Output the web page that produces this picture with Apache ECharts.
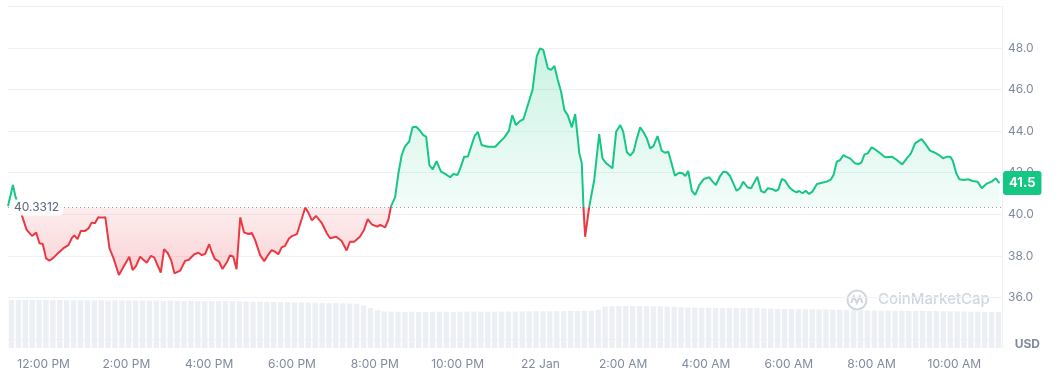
<!DOCTYPE html>
<html><head><meta charset="utf-8">
<script src="https://cdn.jsdelivr.net/npm/echarts@6/dist/echarts.min.js"></script>
<style>html,body{margin:0;padding:0;background:#fff}#c{width:1060px;height:382px}</style>
</head><body><div id="c"></div>
<script>
// ---- data ----
const baseline = 40.3312;
const lastPrice = 41.5;
// time in hours since 00:00 on 21 Jan (24 = midnight 22 Jan)
const times = [11.14,11.26,11.32,11.42,11.51,11.59,11.72,11.75,11.82,11.90,11.98,12.06,12.14,12.22,12.36,12.48,12.60,12.68,12.74,12.82,12.90,13.00,13.08,13.16,13.24,13.32,13.41,13.49,13.59,13.69,13.82,13.93,14.07,14.15,14.23,14.33,14.49,14.59,14.67,14.83,14.91,15.00,15.08,15.16,15.30,15.42,15.50,15.64,15.74,15.82,15.90,16.00,16.06,16.14,16.24,16.32,16.43,16.50,16.58,16.66,16.75,16.84,16.95,17.03,17.11,17.23,17.33,17.42,17.51,17.59,17.67,17.75,17.83,17.93,18.01,18.12,18.24,18.32,18.40,18.48,18.58,18.72,18.84,18.92,19.07,19.20,19.32,19.40,19.50,19.64,19.74,19.83,19.93,20.06,20.13,20.25,20.33,20.39,20.49,20.57,20.65,20.73,20.83,20.91,21.00,21.09,21.17,21.24,21.32,21.40,21.49,21.60,21.70,21.82,21.90,22.00,22.08,22.16,22.25,22.34,22.41,22.49,22.58,22.73,22.91,23.00,23.13,23.24,23.32,23.41,23.51,23.59,23.71,23.81,23.91,23.99,24.07,24.18,24.26,24.34,24.42,24.50,24.58,24.66,24.76,24.84,24.90,24.94,25.00,25.04,25.08,25.18,25.30,25.42,25.50,25.59,25.74,25.83,25.93,26.00,26.09,26.17,26.25,26.33,26.41,26.50,26.57,26.65,26.73,26.83,26.93,27.01,27.09,27.25,27.35,27.44,27.50,27.57,27.66,27.74,27.84,27.95,28.08,28.16,28.24,28.34,28.42,28.50,28.58,28.66,28.74,28.82,28.90,29.00,29.09,29.24,29.33,29.41,29.49,29.59,29.69,29.75,29.83,29.91,30.01,30.11,30.19,30.25,30.33,30.41,30.49,30.57,30.68,30.80,30.92,31.02,31.08,31.16,31.24,31.32,31.38,31.48,31.60,31.68,31.75,31.83,31.91,32.00,32.08,32.16,32.33,32.49,32.61,32.74,32.85,32.95,33.05,33.15,33.21,33.29,33.41,33.53,33.63,33.73,33.82,33.90,33.96,34.04,34.12,34.22,34.34,34.44,34.56,34.66,34.77,34.90,35.00,35.09];
const prices = [40.40,41.41,40.85,40.30,39.73,39.25,38.96,38.92,39.12,38.61,38.57,37.88,37.77,37.88,38.15,38.37,38.52,38.85,38.99,38.81,39.20,39.20,39.31,39.60,39.57,39.86,39.84,39.86,38.37,37.88,37.08,37.48,37.96,37.32,37.51,37.96,37.67,38.00,37.93,37.20,38.32,38.13,37.80,37.16,37.29,37.77,37.80,38.08,38.15,38.04,38.09,38.56,38.20,37.84,37.72,37.37,37.71,38.02,37.97,37.36,39.85,39.13,39.05,39.10,38.76,38.04,37.75,38.04,38.28,38.20,38.08,38.41,38.48,38.85,38.96,39.05,39.81,40.33,40.06,39.71,39.92,39.58,39.09,38.85,38.92,38.72,38.26,38.68,38.68,38.92,39.25,39.77,39.51,39.41,39.49,39.37,39.75,40.38,40.81,41.97,42.85,43.27,43.50,44.18,44.21,44.03,43.81,43.73,42.35,42.16,42.55,42.05,41.94,41.78,41.94,41.89,42.29,42.77,42.78,43.33,43.76,43.96,43.33,43.25,43.25,43.44,43.70,44.02,44.77,44.29,44.49,44.57,45.34,45.98,47.58,47.98,47.90,47.02,46.94,47.13,46.46,45.89,45.01,44.77,44.18,44.82,43.70,42.93,42.45,40.37,38.92,40.37,41.65,43.85,42.69,42.45,42.21,43.97,44.29,43.97,42.98,42.82,43.01,43.65,44.18,43.92,43.65,43.17,43.28,43.76,43.06,42.96,43.01,41.86,42.00,41.97,41.84,42.08,41.12,40.93,41.41,41.70,41.78,41.57,41.41,41.84,42.05,42.02,41.84,41.49,41.13,41.25,41.57,41.30,41.25,41.81,41.12,41.04,41.25,41.22,41.12,41.20,41.70,41.62,41.30,41.13,41.06,41.12,41.01,41.13,40.98,41.09,41.46,41.52,41.57,41.68,41.89,42.53,42.61,42.85,42.77,42.69,42.45,42.42,42.48,42.88,42.93,43.22,43.13,43.01,42.74,42.77,42.61,42.40,42.69,42.93,43.41,43.54,43.61,43.41,43.06,42.96,42.85,42.69,42.77,42.77,42.58,42.00,41.68,41.65,41.68,41.60,41.57,41.25,41.46,41.57,41.73,41.50];
// volume (relative units), one bar per 10 minutes over the period
const volumes = [
  47.2,47.0,47.1,47.0,46.9,47.0,46.8,46.9,46.8,46.7,46.8,46.7,
  46.6,46.7,46.5,46.6,46.5,46.4,46.5,46.4,46.3,46.4,46.2,46.3,
  46.2,46.1,46.2,46.0,46.1,45.9,46.0,45.8,45.9,45.7,45.6,45.5,
  45.3,45.2,45.0,44.9,44.8,44.7,44.5,44.4,44.3,44.2,44.0,43.9,43.8,43.6,43.4,
  41.5,39.0,37.0,
  35.8,35.6,35.5,35.4,35.5,35.3,35.4,35.5,35.6,35.5,35.4,35.5,35.6,35.7,35.6,35.5,
  35.6,35.7,35.8,35.7,35.8,35.9,36.0,35.9,36.0,36.1,36.0,36.2,36.3,36.4,36.6,37.5,
  40.6,40.9,41.0,41.1,41.0,41.1,41.0,40.9,40.8,40.6,40.4,40.0,
  39.6,39.5,39.4,39.5,39.4,39.3,39.4,39.3,39.2,39.1,39.0,38.8,38.6,
  38.3,38.2,38.1,38.0,38.1,38.0,37.9,37.8,37.6,37.4,37.2,37.0,
  36.8,36.7,36.6,36.5,36.6,36.5,36.4,36.3,36.4,36.3,36.2,36.1,36.0,35.9,35.8,35.7,35.6,35.5,35.4,35.3,35.2];
const xTickHours = [12,14,16,18,20,22,24,26,28,30,32,34];
const xTickLabels = ['12:00 PM','2:00 PM','4:00 PM','6:00 PM','8:00 PM','10:00 PM','22 Jan','2:00 AM','4:00 AM','6:00 AM','8:00 AM','10:00 AM'];
const yMin = 34, yMax = 50, yStep = 2;

// ---- chart ----
const GREEN = '#16c784', RED = '#ea3943', GRID = '#eff2f5', LABEL = '#808a9d';
const priceData = times.map((t, i) => [t, prices[i]]);
const upper = times.map((t, i) => [t, Math.max(prices[i], baseline)]);
const lower = times.map((t, i) => [t, Math.min(prices[i], baseline)]);
const xMin = times[0], xMax = 35.15;

const chart = echarts.init(document.getElementById('c'), null, {renderer: 'canvas'});
chart.setOption({
  animation: false,
  textStyle: {fontFamily: 'Inter, "Noto Sans", sans-serif'},
  grid: [
    {left: 8, right: 58, top: 6.3, bottom: 42.9},
    {left: 8, right: 58, top: 299, bottom: 34}
  ],
  xAxis: [
    {type: 'value', gridIndex: 0, min: xMin, max: xMax,
     axisLine: {show: false}, axisTick: {show: false}, splitLine: {show: false},
     axisLabel: {customValues: xTickHours, margin: 19, color: LABEL, fontSize: 12,
       formatter: v => xTickLabels[xTickHours.indexOf(Math.round(v))] || ''}},
    {type: 'category', gridIndex: 1, data: volumes.map((_, i) => i), show: false}
  ],
  yAxis: [
    {type: 'value', gridIndex: 0, position: 'right', min: yMin, max: yMax, interval: yStep,
     axisLine: {show: true, lineStyle: {color: GRID}}, axisTick: {show: false},
     splitLine: {lineStyle: {color: GRID, width: 1}},
     axisLabel: {showMinLabel: false, showMaxLabel: false, margin: 6, color: LABEL, fontSize: 12,
       formatter: v => v.toFixed(1)}},
    {type: 'value', gridIndex: 1, position: 'right', min: 0, max: 48,
     axisLine: {show: true, lineStyle: {color: GRID}}, axisTick: {show: false},
     splitLine: {show: false}, axisLabel: {show: false}}
  ],
  visualMap: {type: 'piecewise', show: false, seriesIndex: 2, dimension: 1,
    pieces: [{gt: 0, lte: baseline, color: RED}, {gt: baseline, lte: 1000, color: GREEN}]},
  graphic: [
    {type: 'text', right: 20, top: 338, style: {text: 'USD', fill: LABEL, font: 'bold 12px Inter'}},
    {type: 'group', left: 845, top: 288, children: [
      {type: 'circle', shape: {cx: 11, cy: 11, r: 9.5}, style: {fill: 'none', stroke: '#d0d6df', lineWidth: 2}},
      {type: 'polyline', shape: {points: [[5,14],[7.8,7.5],[10.8,14],[13.8,7.5],[16.5,14]]}, style: {fill: 'none', stroke: '#d0d6df', lineWidth: 2}},
      {type: 'text', x: 32, y: 3, style: {text: 'CoinMarketCap', fill: '#d0d6df', font: '500 15px Inter'}}
    ]}
  ],
  series: [
    {type: 'line', xAxisIndex: 0, yAxisIndex: 0, data: upper, showSymbol: false, silent: true,
     lineStyle: {width: 0}, z: 1,
     areaStyle: {origin: baseline, color: new echarts.graphic.LinearGradient(0, 0, 0, 1, [
       {offset: 0, color: 'rgba(22,199,132,0.32)'}, {offset: 1, color: 'rgba(22,199,132,0.07)'}])}},
    {type: 'line', xAxisIndex: 0, yAxisIndex: 0, data: lower, showSymbol: false, silent: true,
     lineStyle: {width: 0}, z: 1,
     areaStyle: {origin: baseline, color: new echarts.graphic.LinearGradient(0, 0, 0, 1, [
       {offset: 0, color: 'rgba(234,57,67,0.13)'}, {offset: 1, color: 'rgba(234,57,67,0.32)'}])}},
    {type: 'line', xAxisIndex: 0, yAxisIndex: 0, data: priceData, showSymbol: false, z: 3,
     lineStyle: {width: 2},
     markLine: {silent: true, symbol: ['none', 'none'], animation: false,
       data: [
         {yAxis: baseline, lineStyle: {color: '#9aa3b2', type: [1, 3], width: 1},
          label: {show: true, position: 'insideStartTop', verticalAlign: 'middle', distance: [2, 0],
            formatter: String(baseline), color: '#58667e', fontSize: 12,
            backgroundColor: 'rgba(255,255,255,0.92)', padding: [2, 4], borderRadius: 4}},
         {yAxis: lastPrice, lineStyle: {color: 'rgba(0,0,0,0)', width: 1},
          label: {show: true, position: 'end', verticalAlign: 'middle', distance: 1,
            formatter: String(lastPrice), color: '#ffffff', fontSize: 13, fontWeight: 'bold',
            lineHeight: 14, backgroundColor: GREEN, padding: [5, 6, 5, 6], borderRadius: 3}}
       ]}},
    {type: 'bar', xAxisIndex: 1, yAxisIndex: 1, data: volumes, barCategoryGap: '22%',
     itemStyle: {color: '#eceff3'}, silent: true, z: 2}
  ]
});
</script></body></html>
